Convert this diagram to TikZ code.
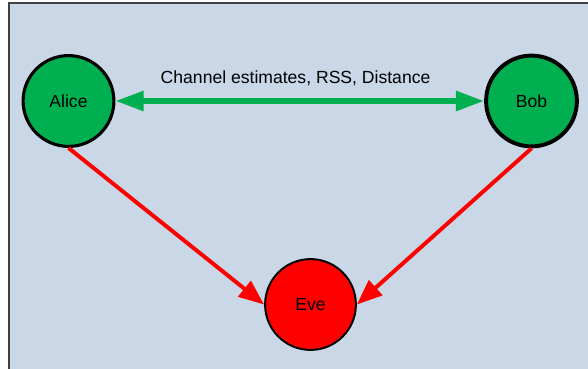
\documentclass[tikz,border=0pt]{standalone}
\usepackage{fontspec}
\setmainfont{Liberation Sans}
\usetikzlibrary{arrows.meta}
\definecolor{panel}{HTML}{C9D7E7}
\definecolor{frame}{HTML}{404040}
\definecolor{peergreen}{HTML}{00B050}
\definecolor{evered}{HTML}{FF0000}
\tikzset{
  peer/.style={
    circle, minimum size=2.27cm, inner sep=0pt,
    draw=black, line width=2.2pt,
    fill=peergreen, font=\fontsize{12.5}{15}\selectfont,
  },
  eavesdropper/.style={
    circle, minimum size=2.27cm, inner sep=0pt,
    draw=black, line width=1.4pt,
    fill=evered, font=\fontsize{12.5}{15}\selectfont,
  },
  share/.style={{Triangle[length=20pt,width=13.5pt]}-{Triangle[length=20pt,width=13.5pt]}, line width=4pt, color=peergreen},
  leak/.style={-{Triangle[length=18pt,width=14pt]}, line width=2.8pt, color=evered},
}

\begin{document}
\begin{tikzpicture}[x=0.025cm,y=-0.025cm]
  \useasboundingbox (0,0) rectangle (588,369);
  \fill[panel] (9,3) rectangle (588,369);
  \draw[frame,line width=1.4pt] (9,369)--(9,3)--(588,3);
  \node[peer] (alice) at (68.5,101) {Alice};
  \node[peer,line width=2.8pt] (bob) at (531.5,101) {Bob};
  \node[eavesdropper] (eve) at (310.5,304.5) {Eve};
  \draw[share] (alice)--node[anchor=base,yshift=12.8pt,xshift=-3pt,text=black,font=\fontsize{12.5}{15}\selectfont]{Channel estimates, RSS, Distance}(bob);
  \draw[leak] (alice.south)--(eve.west);
  \draw[leak] (bob.south)--(eve.east);
\end{tikzpicture}
\end{document}
